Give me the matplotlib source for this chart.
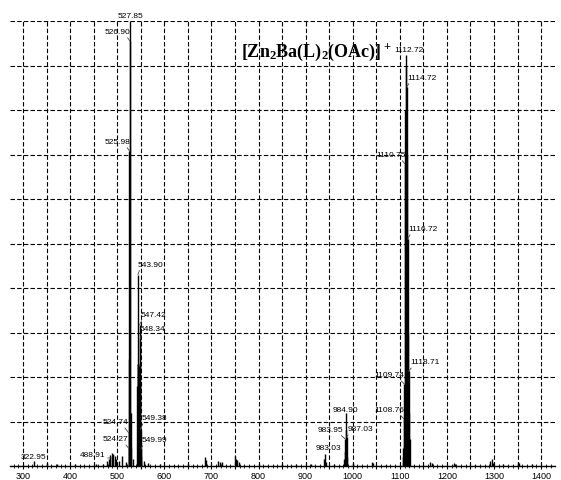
import matplotlib
matplotlib.use('Agg')
import matplotlib.pyplot as plt
from matplotlib.ticker import MultipleLocator, FuncFormatter

plt.rcParams['font.family'] = ['Liberation Sans', 'DejaVu Sans']
plt.rcParams['mathtext.fontset'] = 'custom'
plt.rcParams['mathtext.rm'] = 'Liberation Serif:bold'
plt.rcParams['mathtext.it'] = 'Liberation Serif:bold'
plt.rcParams['mathtext.bf'] = 'Liberation Serif:bold'

# labelled peaks (m/z, relative intensity)
peak_mz = [527.85, 526.90, 525.98, 543.90, 547.42, 548.34, 524.74, 524.27,
           549.38, 549.99, 488.91, 322.95, 984.90, 983.95, 987.03, 983.03,
           1112.72, 1114.72, 1110.75, 1116.72, 1118.71, 1109.74, 1108.76]
peak_int = [100, 95.5, 70.8, 43, 31.7, 28.5, 7.4, 4.0,
            8.3, 3.8, 1.8, 1.1, 11.9, 6.1, 6.5, 2.9,
            92.4, 85.2, 67.9, 51, 21.3, 18.4, 10.6]

# unlabelled peaks of the isotope clusters and the small background peaks
other_mz = [525.4, 528.8, 529.8, 542.8, 543.5, 544.5, 545.0, 545.5, 546.0, 546.5, 547.0,
            548.8, 549.6, 550.6, 551.5,
            1111.7, 1113.7, 1115.7, 1117.7, 1119.7, 1120.7, 1107.8, 1106.8,
            985.9, 986.0, 982.0, 988.1,
            478, 482, 485, 490, 492, 495, 498, 503, 511, 518, 534, 557, 565,
            352, 372, 410, 455, 470, 590, 620, 650,
            686, 688, 714, 718, 722, 750, 752, 755, 758, 800, 850, 880,
            912, 938, 941, 944, 960, 1000, 1040, 1043, 1070,
            1165, 1168, 1215, 1218, 1260, 1292, 1295, 1298, 1320, 1350, 1353, 1380]
other_int = [24, 12, 4, 18, 23, 23, 23, 22.5, 22, 21.5, 20,
             18, 8, 2, 1,
             80, 90, 70, 30, 12, 6, 4, 2,
             8, 5, 1.5, 2,
             1.2, 1.5, 2.5, 3, 2.6, 2.2, 1.5, 1.2, 2.2, 1.0, 1.5, 1.2, 0.6,
             0.6, 0.4, 0.4, 0.5, 0.4, 0.4, 0.3, 0.4,
             2.1, 1.4, 1.2, 1.0, 0.8, 2.2, 1.6, 1.4, 1.0, 0.4, 0.4, 0.5,
             0.5, 1.6, 2.7, 1.0, 0.5, 0.6, 0.9, 0.6, 0.3,
             0.9, 0.7, 0.7, 0.5, 0.3, 1.2, 1.5, 0.6, 0.4, 0.8, 0.6, 0.4]

# label placement: side of the peak and offset in pixels
label_side = ['C', 'L', 'L', 'R', 'R', 'R', 'L', 'L',
              'R', 'R', 'L', 'C', 'C', 'L', 'R', 'L',
              'C', 'R', 'L', 'R', 'R', 'L', 'L']
label_off = [(0, 2), (1, 6), (1, 6), (0, 7), (1, 7), (0, 7), (-1, 8), (0, 6),
             (1, 8), (1, 6), (-7, 0), (0, 1), (0, 0), (-2, 6), (1, 5), (-3, 2),
             (3, 2), (1, 6), (1, 6), (1, 7), (2, 6), (0, 6), (0, 6)]

fig = plt.figure(figsize=(5.61, 4.81), dpi=100)
ax = fig.add_axes([10 / 561, 14 / 481, 545 / 561, 445 / 481])

ax.vlines(other_mz, 0, other_int, color='black', lw=1.0)
ax.vlines(peak_mz, 0, peak_int, color='black', lw=1.0)

ax.set_xlim(272.4, 1429.5)
ax.set_ylim(0, 100)

ax.xaxis.set_major_locator(MultipleLocator(50))
ax.xaxis.set_minor_locator(MultipleLocator(10))
ax.xaxis.set_major_formatter(FuncFormatter(lambda v, p: '%d' % v if v % 100 == 0 else ''))
ax.yaxis.set_major_locator(MultipleLocator(10))
ax.set_yticklabels([])
ax.tick_params(axis='y', length=0)
ax.tick_params(axis='x', which='major', direction='inout', length=4, width=0.8,
               labelsize=6.5, pad=1.5)
ax.tick_params(axis='x', which='minor', direction='inout', length=2.5, width=0.6)

ax.grid(True, which='major', linestyle=(0, (4, 2)), color='black', lw=0.8)
ax.set_axisbelow(True)
for s in ['top', 'left', 'right']:
    ax.spines[s].set_visible(False)
ax.spines['bottom'].set_linewidth(1.0)

for mz, h, side, (dx, dy) in zip(peak_mz, peak_int, label_side, label_off):
    txt = '%.2f' % mz
    if side == 'C':
        ax.annotate(txt, (mz, h), xytext=(dx, dy), textcoords='offset pixels',
                    ha='center', va='bottom', fontsize=6, annotation_clip=False)
    elif side == 'L':
        ax.annotate(txt, (mz, h), xytext=(dx, dy), textcoords='offset pixels',
                    ha='right', va='bottom', fontsize=6, annotation_clip=False,
                    arrowprops=dict(arrowstyle='-', color='#444444', lw=0.6,
                                    relpos=(0.8, 0), shrinkA=0, shrinkB=0))
    else:
        ax.annotate(txt, (mz, h), xytext=(dx, dy), textcoords='offset pixels',
                    ha='left', va='bottom', fontsize=6, annotation_clip=False,
                    arrowprops=dict(arrowstyle='-', color='#444444', lw=0.6,
                                    relpos=(0.1, 0), shrinkA=0, shrinkB=0))

fig.text(241 / 561, 1 - 57 / 481, r'[Zn$_2$Ba(L)$_2$(OAc)]$^+$',
         fontsize=13, fontfamily='Liberation Serif', fontweight='bold',
         ha='left', va='baseline')

fig.savefig('out.png', dpi=100)
